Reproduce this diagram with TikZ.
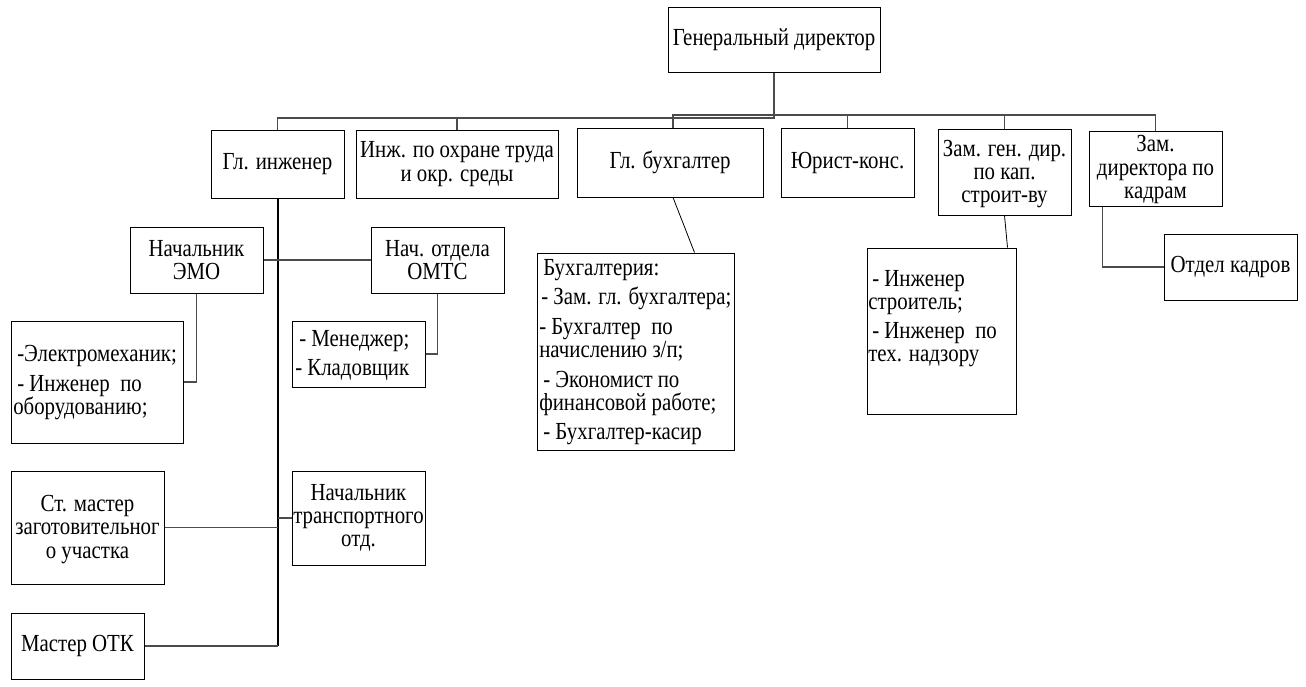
\documentclass[tikz,border=0pt]{standalone}
\usepackage{fontspec}
\setmainfont{Liberation Serif}[FakeStretch=0.85]
\usetikzlibrary{fit,calc}
\begin{document}
\begin{tikzpicture}[x=0.75pt,y=-0.75pt,
 bx/.style={draw=black, line width=0.75pt, inner sep=0pt},
 tx/.style={font=\fontsize{18.4}{17.4}\selectfont, align=center, inner sep=0pt},
 lt/.style={font=\fontsize{18.4}{17.2}\selectfont, align=left, inner sep=0pt, anchor=north west},
 ln/.style={draw=black!70, line width=0.9pt},
 dg/.style={draw=black, line width=0.6pt},
 spine/.style={draw=black, line width=1.5pt}]
\useasboundingbox[fill=white] (0,0) rectangle (1306,686);

% boxes
\node[bx, fit={(668,7)(880,72)}] (gd) {};
\node[tx] (gdt) at (gd) {Генеральный директор};
\node[bx, fit={(211,130)(344,198)}] (gi) {};
\node[tx] (git) at (gi) {Гл. инженер};
\node[bx, fit={(356,130)(558,198)}] (io) {};
\node[tx] (iot) at (io) {Инж. по охране труда\\и окр. среды};
\node[bx, fit={(577,128)(763,197)}] (gb) {};
\node[tx] (gbt) at (gb) {Гл. бухгалтер};
\node[bx, fit={(781,128)(914,197)}] (ur) {};
\node[tx] (urt) at (ur) {Юрист-конс.};
\node[bx, fit={(938,129)(1071,215)}] (zg) {};
\node[tx] (zgt) at ($(zg)+(0,2)$) {Зам. ген. дир.\\по кап.\\строит-ву};
\node[bx, fit={(1089,131)(1222,206)}] (zk) {};
\node[tx] (zkt) at ($(zk)+(0,1)$) {Зам.\\директора по\\кадрам};
\node[bx, fit={(130,227)(263,293)}] (emo) {};
\node[tx] (emot) at (emo) {Начальник\\ЭМО};
\node[bx, fit={(371,227)(504,293)}] (omts) {};
\node[tx] (omtst) at (omts) {Нач. отдела\\ОМТС};
\node[bx, fit={(1164,234)(1297,300)}] (ok) {};
\node[tx] (okt) at (ok) {Отдел кадров};
\node[bx, fit={(11,471)(164,584)}] (sm) {};
\node[tx] (smt) at ($(sm)+(0,2)$) {Ст. мастер\\заготовительног\\о участка};
\node[bx, fit={(292,471)(425,565)}] (tr) {};
\node[tx] (trt) at (tr) {Начальник\\транспортного\\отд.};
\node[bx, fit={(11,613)(144,679)}] (otk) {};
\node[tx] (otkt) at (otk) {Мастер ОТК};

% list boxes
\node[bx, fit={(11,321)(183,443)}] (el) {};
\node[lt] (elt) at (13,345) {\hspace{3pt}-Электромеханик;\\[5pt]\hspace{3pt}- Инженер\ \ по\\оборудованию;};
\node[bx, fit={(292,321)(425,387)}] (mn) {};
\node[lt] (mnt) at (295,330) {\hspace{3pt}- Менеджер;\\[5pt]- Кладовщик};
\node[bx, fit={(537,253)(734,450)}] (buh) {};
\node[lt] (buht) at (539,259) {\hspace{3pt}Бухгалтерия:\\[5pt]\hspace{1.5pt}- Зам. гл. бухгалтера;\\[5pt]- Бухгалтер\ \ по\\начислению з/п;\\[5pt]\hspace{3pt}- Экономист по\\финансовой работе;\\[5pt]\hspace{3pt}- Бухгалтер-касир};
\node[bx, fit={(867,248)(1016,414)}] (is) {};
\node[lt] (ist) at (868,270) {\hspace{3pt}- Инженер\\строитель;\\[5pt]\hspace{3pt}- Инженер\ \ по\\тех. надзору};

% connectors
\coordinate (b1) at (774,118);
\coordinate (b2) at (1155.5,115);
\draw[ln] (gd.south) -- (b1) -| (gi.north);
\draw[ln] (io.north) -- (io.north |- b1);
\draw[ln] ($(gb.north)+(3,0)$) |- (b2) -- (zk.north);
\draw[ln] (ur.north) -- (ur.north |- b2);
\draw[ln] (zg.north) -- (zg.north |- b2);

\draw[spine] (gi.south) -- (gi.south |- otk.east);
\draw[ln] (otk.east) -- (gi.south |- otk.east);
\draw[ln] (sm.east) -- (gi.south |- sm.east);
\draw[ln] (tr.west) -- (gi.south |- tr.west);
\draw[ln] (emo.east) -- (omts.west);
\draw[ln] (emo.south) |- (el.east);
\draw[ln] (omts.south) |- (mn.east);
\draw[dg] ($(gb.south)+(3,0)$) -- ($(buh.north west)+(158,0)$);
\draw[dg] (zg.south) -- ($(is.north west)+(141,0)$);
\draw[ln] ($(zk.south west)+(14,0)$) |- (ok.west);
\end{tikzpicture}
\end{document}
